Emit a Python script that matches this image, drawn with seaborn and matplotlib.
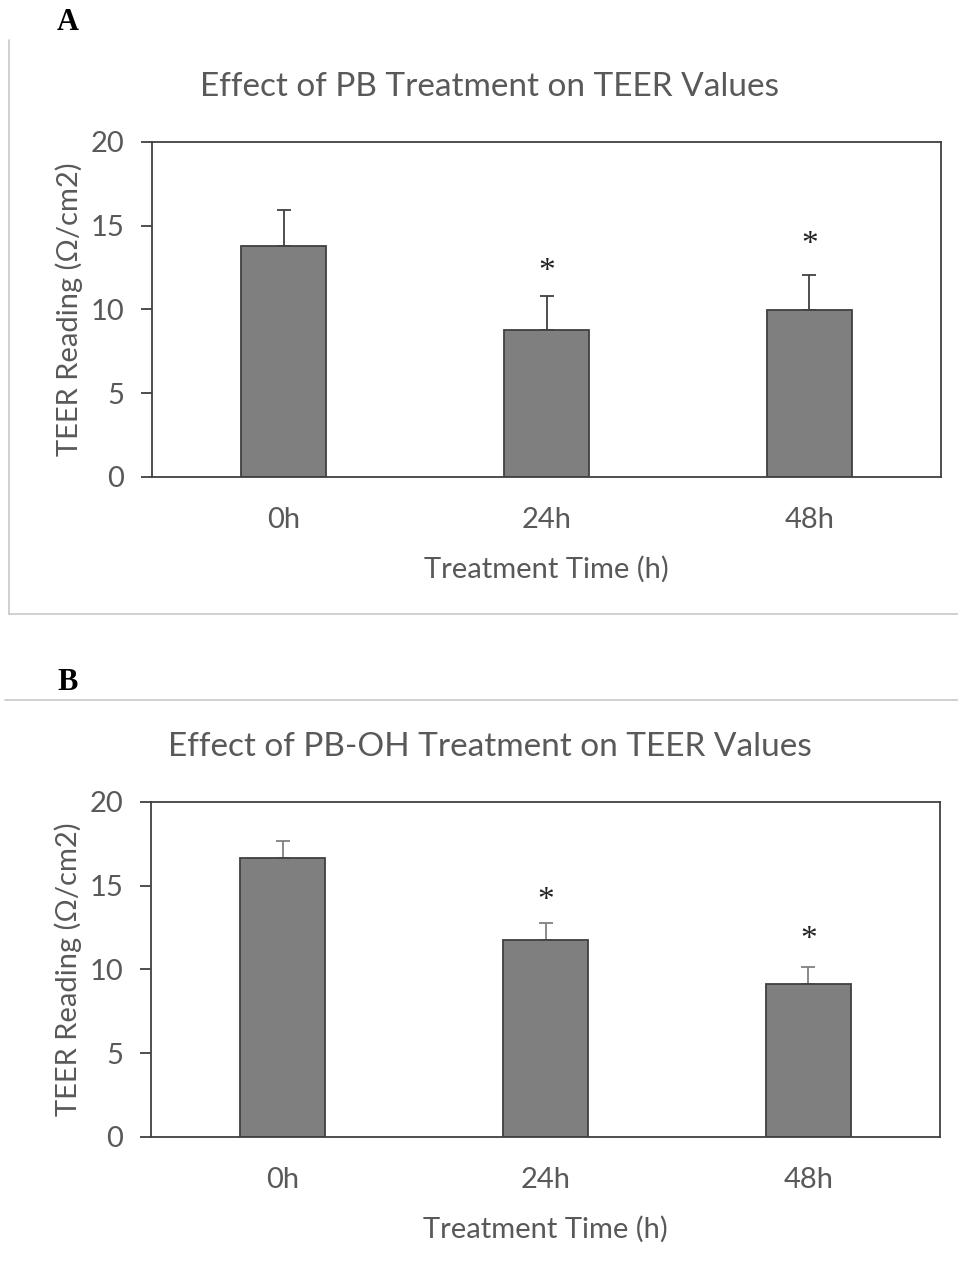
import matplotlib
matplotlib.use("Agg")
import matplotlib.pyplot as plt
import seaborn as sns
import pandas as pd
import numpy as np
from matplotlib.lines import Line2D

sns.set_theme(style="white")
plt.rcParams['font.family'] = ['Lato', 'DejaVu Sans']

categories = ["0h", "24h", "48h"]
pb_means = [13.8, 8.78, 9.98]
pb_errs = [2.16, 2.0, 2.08]
pb_stars = [None, 12.74, 14.37]
pboh_means = [16.64, 11.76, 9.13]
pboh_errs = [1.0, 0.99, 1.0]
pboh_stars = [None, 14.57, 12.24]
titles = ["Effect of PB Treatment on TEER Values",
          "Effect of PB-OH Treatment on TEER Values"]
panel_labels = ["A", "B"]
y_ticks = [0, 5, 10, 15, 20]
xlabel = "Treatment Time (h)"
ylabel = "TEER Reading (\u03a9/cm2)"

TXT = "#595959"
EDGE = "#404040"

fig = plt.figure(figsize=(9.58, 12.72), dpi=100)
W, H = 958, 1272

def px_axes(left, top, right, bottom):
    return fig.add_axes([left / W, 1 - bottom / H, (right - left) / W, (bottom - top) / H])

ax_a = px_axes(152, 142, 941, 476.7)
ax_b = px_axes(151, 802, 940, 1136.7)

panels = [
    (ax_a, pb_means, pb_errs, pb_stars, titles[0], "#404040", 152),
    (ax_b, pboh_means, pboh_errs, pboh_stars, titles[1], "#808080", 151),
]

for ax, means, errs, stars, title, ecol, left in panels:
    df = pd.DataFrame({"time": categories, "value": means})
    x = np.arange(len(categories))
    ax.errorbar(x, means, yerr=[np.zeros(len(errs)), errs], fmt="none",
                ecolor=ecol, elinewidth=1.3, capsize=4.7, capthick=1.3, zorder=1)
    sns.barplot(data=df, x="time", y="value", ax=ax, color="#7f7f7f",
                width=0.32, edgecolor=EDGE, linewidth=1.3, saturation=1, zorder=2)
    for xi, s in zip(x, stars):
        if s is not None:
            ax.text(xi, s - 0.5, "*", ha="center", va="center", fontsize=24,
                    family="Liberation Serif", color="#222222")
    ax.set_ylim(0, 20)
    ax.set_xlim(-0.5, 2.5)
    ax.set_yticks(y_ticks)
    ax.set_yticklabels([str(t) for t in y_ticks])
    ax.tick_params(axis="y", direction="out", length=8, width=1.3, color=EDGE,
                   labelsize=21, labelcolor=TXT, pad=12, left=True)
    ax.tick_params(axis="x", length=0, labelsize=21, labelcolor=TXT, pad=22)
    ax.set_xlabel(xlabel, fontsize=21, color=TXT, labelpad=16)
    ax.set_ylabel(ylabel, fontsize=21, color=TXT, labelpad=5)
    ax.set_title(title, fontsize=24, color=TXT, pad=33,
                 x=(489.5 - left) / 789)
    for sp in ax.spines.values():
        sp.set_visible(True)
        sp.set_color(EDGE)
        sp.set_linewidth(1.3)

# panel labels
fig.text(68 / W, 1 - 22 / H, panel_labels[0], fontsize=22, fontweight="bold",
         family="Liberation Serif", ha="center", va="center", color="black")
fig.text(68 / W, 1 - 682 / H, panel_labels[1], fontsize=22, fontweight="bold",
         family="Liberation Serif", ha="center", va="center", color="black")

# chart frame lines
fig.add_artist(Line2D([9 / W, 9 / W], [1 - 40 / H, 1 - 614 / H], color="#c8c8c8", lw=1.2))
fig.add_artist(Line2D([9 / W, 1], [1 - 614 / H, 1 - 614 / H], color="#c8c8c8", lw=1.2))
fig.add_artist(Line2D([5 / W, 1], [1 - 700 / H, 1 - 700 / H], color="#c8c8c8", lw=1.2))

fig.savefig("out.png", dpi=100)
